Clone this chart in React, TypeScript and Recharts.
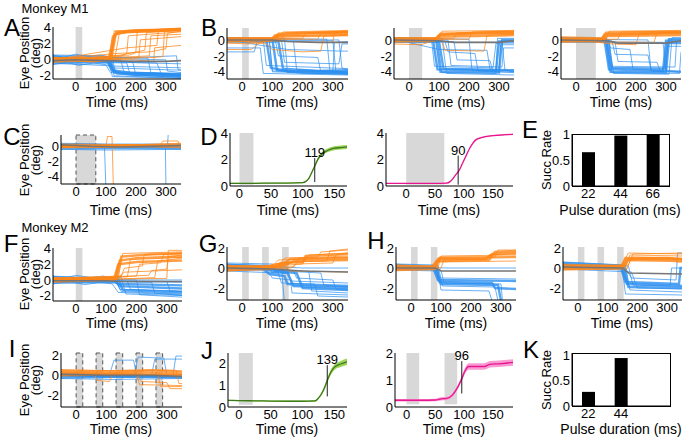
import React from "react";
import {
  LineChart,
  Line,
  XAxis,
  YAxis,
  ReferenceArea,
  ReferenceLine,
  ComposedChart,
  Area,
  BarChart,
  Bar,
} from "recharts";

const FONT = "'Liberation Sans', Arial, Helvetica, sans-serif";
const ORANGE = "#ff8616";
const BLUE = "#2b8ef0";
const MEAN = "#767676";
const PULSE = "#d8d8d8";

// eye traces are flat [t0, v0, t1, v1, ...] lists (ms, deg)

// ---- A (monkey M1, 22 ms pulse)
const aOrangeCore = [
  [-75, 0.1, 40, -0.1, 110, 0.0, 125, 2.8, 140, 3.4, 200, 3.6, 350, 3.8],
  [-75, -0.2, 50, 0.1, 115, 0.1, 130, 3.2, 160, 3.5, 260, 3.7, 350, 3.9],
  [-75, 0.2, 60, -0.2, 118, 0.1, 135, 3.5, 200, 3.7, 350, 3.8],
];
const aOrange = [
  [-75, 0.3, 120, 0.2, 128, 3.6, 350, 3.9],
  [-75, -0.3, 112, -0.1, 122, 3.0, 170, 3.4, 350, 3.6],
  [-75, 0.0, 130, 0.1, 145, 3.3, 350, 3.7],
  [-75, 0.1, 150, 0.4, 170, 0.8, 175, 3.0, 350, 3.5],
  [-75, 0.0, 180, 0.6, 200, 0.9, 205, 3.6, 350, 3.9],
  [-75, -0.1, 150, 0.6, 230, 1.2, 235, 3.4, 350, 3.7],
  [-75, 0.2, 200, 0.4, 245, 0.5, 250, 3.0, 350, 3.2],
  [-75, 0.0, 170, 1.5, 270, 1.8, 275, 3.7, 350, 3.9],
  [-75, -0.1, 260, 0.3, 290, 0.4, 295, 3.5, 350, 3.8],
  [-75, 0.1, 140, 0.8, 250, 1.0, 300, 1.4, 305, 3.3, 350, 3.6],
  [-75, 0.0, 160, 0.2, 210, 0.3, 215, 2.5, 350, 2.9],
  [-75, 0.2, 190, 0.0, 260, -0.2, 262, 1.5, 350, 1.8],
];
const aBlueCore = [
  [-75, 0.0, 110, -0.1, 125, -1.4, 160, -1.7, 350, -1.9],
  [-75, 0.3, 115, 0.0, 130, -1.6, 200, -1.9, 350, -2.0],
  [-75, -0.3, 105, -0.2, 120, -1.3, 180, -1.6, 350, -1.8],
];
const aBlue = [
  [-75, 0.5, 120, 0.4, 135, -1.8, 350, -2.2],
  [-75, -0.5, 118, -0.5, 128, -2.0, 350, -2.3],
  [-75, 0.6, 100, 0.5, 115, -1.0, 350, -1.3],
  [-75, 0.2, 150, 0.0, 160, -1.5, 350, -1.8],
  [-75, -0.2, 170, -0.4, 180, -1.7, 350, -2.1],
  [-75, 0.1, 190, -0.3, 200, -1.9, 350, -2.2],
  [-75, 0.4, 240, 0.2, 250, -1.6, 350, -2.0],
  [-75, -0.1, 270, -0.4, 285, -1.8, 350, -2.0],
  [-75, 0.3, 300, 0.0, 305, -1.4, 350, -1.6],
  [-75, 0.0, 130, -0.3, 350, -0.5],
  [-75, -0.4, 140, -0.8, 350, -1.0],
  [-75, 0.2, 200, 0.3, 335, 0.5, 340, -1.2, 350, -1.3],
  [-75, 0.6, -40, 0.3, 0, 0.7, 40, 0.4, 80, 0.6, 110, 0.3, 122, -2.1, 350, -2.3],
  [-75, -0.6, -30, -0.3, 10, -0.7, 60, -0.4, 100, -0.6, 116, -1.6, 350, -1.7],
];
const aMean = [-75, -0.1, 0, 0.0, 100, -0.1, 200, -0.2, 300, -0.2, 350, -0.1];

// ---- B (monkey M1, 22 / 44 / 66 ms pulses)
const b1OrangeCore = [
  [-50, 0.0, 100, 0.1, 110, 0.6, 200, 0.8, 350, 0.9],
  [-50, 0.2, 110, 0.2, 120, 0.8, 350, 1.0],
  [-50, -0.2, 95, 0.0, 105, 0.4, 350, 0.6],
];
const b1Orange = [
  [-50, 0.3, 120, 0.3, 135, 1.0, 350, 1.2],
  [-50, -0.4, 20, -0.5, 100, -0.1, 115, 0.5, 350, 0.7],
  [-50, -1.2, 30, -1.2, 60, -0.3, 130, 0.2, 140, 0.9, 350, 1.1],
  [-50, 0.1, 200, 0.2, 210, 0.9, 350, 1.1],
  [-50, 0.0, 250, 0.1, 260, 0.8, 350, 1.0],
  [-50, 0.1, 150, -0.2, 300, -0.3, 305, 0.9, 350, 1.0],
  [-50, 0.0, 80, -0.5, 100, -1.2, 200, -1.5, 260, -1.4, 270, 0.5, 350, 0.6],
];
const b1BlueCore = [
  [-50, 0.0, 80, 0.0, 95, -3.5, 150, -3.9, 350, -4.0],
  [-50, 0.2, 100, 0.1, 115, -3.8, 200, -4.1, 350, -4.2],
  [-50, -0.2, 120, -0.2, 135, -3.6, 250, -3.9, 350, -3.8],
];
const b1Blue = [
  [-50, 0.1, 70, 0.0, 80, -3.2, 350, -3.6],
  [-50, -1.5, 40, -1.5, 50, -0.2, 90, -0.1, 100, -4.0, 350, -4.3],
  [-50, 0.3, 140, 0.2, 150, -4.1, 350, -4.3],
  [-50, 0.0, 170, -0.2, 180, -3.7, 350, -4.0],
  [-50, 0.0, 110, -0.1, 120, -2.0, 250, -2.2, 260, -4.0, 350, -4.2],
  [-50, 0.1, 130, 0.0, 140, -2.8, 320, -3.0, 330, -0.5, 350, -0.5],
  [-50, 0.2, 280, 0.1, 290, -3.9, 350, -4.2],
  [-50, -0.1, 300, -0.1, 310, -4.0, 350, -4.1],
  [-50, 0.0, 320, 0.0, 330, -3.5, 350, -3.8],
  [-50, 0.1, 90, 0.0, 100, -3.9, 300, -4.0, 305, -0.3, 350, -0.2],
  [-50, 0.0, 150, -1.2, 330, -1.4, 350, -1.4],
  [-50, -1.0, 60, -1.0, 70, -4.2, 350, -4.4],
];
const b1Mean = [-50, 0.0, 100, 0.0, 150, -0.2, 250, -0.3, 350, -0.3];

const b2OrangeCore = [
  [-50, 0.0, 90, 0.0, 100, 0.6, 200, 0.8, 350, 0.9],
  [-50, 0.2, 95, 0.2, 105, 0.8, 350, 1.0],
  [-50, -0.2, 85, -0.1, 95, 0.4, 350, 0.6],
];
const b2Orange = [
  [-50, 0.3, 100, 0.3, 110, 1.1, 350, 1.2],
  [-50, -0.5, 40, -0.6, 90, 0.0, 100, 0.7, 350, 0.8],
  [-50, 0.1, 150, 0.2, 160, 0.9, 350, 1.1],
  [-50, -0.1, 110, 0.0, 120, -1.3, 250, -1.4, 260, 0.6, 350, 0.7],
  [-50, 0.0, 200, 0.1, 210, 1.0, 350, 1.1],
];
const b2BlueCore = [
  [-50, 0.0, 80, 0.0, 95, -3.7, 290, -3.9, 300, -0.2, 350, -0.2],
  [-50, 0.2, 90, 0.1, 105, -4.0, 300, -4.1, 310, 0.0, 350, 0.0],
  [-50, -0.2, 100, -0.2, 115, -3.6, 350, -3.8],
];
const b2Blue = [
  [-50, 0.1, 75, 0.0, 85, -3.3, 280, -3.5, 290, -0.4, 350, -0.4],
  [-50, 0.3, 110, 0.2, 125, -4.2, 350, -4.4],
  [-50, 0.0, 120, -0.2, 130, -1.5, 220, -1.7, 230, -3.9, 350, -4.0],
  [-50, -0.1, 150, -0.2, 160, -2.5, 270, -2.6, 280, -4.0, 350, -4.1],
  [-50, 0.2, 200, 0.1, 210, -3.8, 300, -3.9, 305, -0.6, 350, -0.6],
  [-50, 0.0, 95, 0.0, 110, -4.1, 290, -4.2, 295, 0.2, 350, 0.2],
  [-50, 0.1, 100, -1.2, 260, -1.3, 270, -3.7, 350, -3.9],
  [-50, -0.3, 310, -0.3, 320, -3.8, 350, -4.0],
  [-50, 0.0, 130, 0.0, 140, -3.2, 310, -3.4, 315, -1.0, 350, -1.0],
];
const b2Mean = [-50, 0.0, 100, -0.1, 150, -0.3, 300, -0.3, 350, -0.1];

const b3OrangeCore = [
  [-50, 0.1, 85, 0.1, 95, 0.7, 350, 0.9],
  [-50, -0.1, 90, 0.0, 100, 0.9, 350, 1.0],
  [-50, 0.3, 95, 0.2, 105, 0.5, 350, 0.6],
];
const b3Orange = [
  [-50, 0.0, 100, 0.1, 110, 1.1, 350, 1.2],
  [-50, -0.3, 80, -0.2, 92, 0.6, 350, 0.8],
  [-50, 0.2, 120, -0.5, 200, -0.6, 210, 0.8, 350, 0.9],
  [-50, 0.0, 140, 0.1, 150, 1.0, 350, 1.1],
  [-50, -0.2, 260, -0.3, 270, 0.9, 350, 1.0],
];
const b3BlueCore = [
  [-50, 0.0, 95, 0.0, 110, -3.7, 290, -3.9, 300, -0.1, 350, -0.1],
  [-50, 0.2, 100, 0.1, 115, -4.0, 300, -4.1, 310, 0.1, 350, 0.1],
  [-50, -0.2, 105, -0.2, 120, -3.5, 295, -3.6, 305, -0.4, 350, -0.4],
];
const b3Blue = [
  [-50, 0.1, 110, 0.0, 125, -4.2, 310, -4.3, 320, 0.3, 350, 0.3],
  [-50, 0.3, 100, 0.2, 115, -3.3, 330, -3.4, 335, -0.2, 350, -0.2],
  [-50, 0.0, 120, -0.1, 130, -1.8, 240, -1.9, 250, -3.8, 350, -4.0],
  [-50, -0.1, 130, -0.2, 140, -2.7, 270, -2.8, 280, -3.9, 350, -4.0],
  [-50, 0.2, 105, 0.1, 115, -1.0, 180, -1.2, 190, -3.7, 300, -3.8, 305, -0.8, 350, -0.8],
  [-50, 0.0, 110, 0.0, 120, -4.1, 345, -4.2, 350, -1.5],
  [-50, 0.1, 240, 0.0, 250, -3.9, 350, -4.1],
  [-50, -0.2, 290, -0.3, 300, -3.8, 350, -3.9],
];
const b3Mean = [-50, 0.0, 100, -0.1, 140, -0.4, 300, -0.4, 350, -0.1];

// ---- C (control, no saccade)
const cOrangeCore = [
  [-50, 0.1, 100, 0.0, 200, 0.1, 350, 0.05],
  [-50, -0.1, 150, 0.1, 350, 0.2],
];
const cOrange = [
  [-50, 0.2, 100, 0.1, 105, 1.3, 120, 1.3, 125, -6],
  [-50, 0.0, 280, 0.2, 290, 0.7, 340, 0.7, 345, 0.2, 350, 0.2],
  [-50, 0.3, 200, 0.2, 350, 0.4],
  [-50, -0.2, 250, -0.1, 350, -0.2],
];
const cBlueCore = [
  [-50, 0.0, 350, -0.1],
  [-50, -0.3, 200, -0.2, 350, -0.3],
  [-50, 0.2, 150, 0.1, 350, 0.1],
];
const cBlue = [
  [-50, 0.0, 95, -0.1, 100, -6],
  [-50, -0.1, 298, 0.0, 300, -6],
  [-50, 0.1, 305, 0.1, 308, 2],
  [-50, -0.4, 100, -0.5, 350, -0.4],
  [-50, 0.4, 120, 0.3, 350, 0.3],
];
const cMean = [-50, 0.2, 50, 0.0, 150, -0.1, 250, 0.0, 350, 0.1];

// ---- D (mean traces with latency)
const d1Time = [-15, 0, 25, 50, 75, 100, 105, 110, 115, 119, 125, 130, 140, 150, 160, 170];
const d1Mean = [0.2, 0.2, 0.2, 0.22, 0.22, 0.25, 0.35, 0.6, 1.1, 1.5, 2.1, 2.4, 2.7, 2.85, 2.9, 2.95];
const d1Spread = [0.04, 0.04, 0.04, 0.04, 0.04, 0.05, 0.05, 0.07, 0.09, 0.1, 0.12, 0.13, 0.14, 0.15, 0.15, 0.15];
const d2Time = [-35, 0, 25, 50, 70, 76, 80, 85, 92, 99, 105, 110, 115, 121, 130, 150, 170, 185];
const d2Mean = [0.2, 0.2, 0.2, 0.2, 0.22, 0.33, 0.5, 0.8, 1.2, 1.85, 2.4, 2.85, 3.2, 3.5, 3.65, 3.8, 3.87, 3.9];
const d2Spread = [0.03, 0.03, 0.03, 0.03, 0.03, 0.04, 0.05, 0.06, 0.07, 0.08, 0.08, 0.08, 0.07, 0.06, 0.05, 0.05, 0.05, 0.05];

// ---- E / K success rates
const pulseCats = ["22", "44", "66"];
const eRate = [0.65, 0.97, 1.0];
const kCats = ["22", "44", ""];
const kRate = [0.28, 0.95, null];

// ---- F (monkey M2, 22 ms pulse)
const fOrangeCore = [
  [-75, 0.0, 130, 0.1, 145, 2.5, 200, 2.8, 350, 3.0],
  [-75, 0.2, 135, 0.2, 150, 3.0, 250, 3.3, 350, 3.4],
  [-75, -0.2, 125, 0.0, 140, 2.0, 200, 2.3, 350, 2.5],
];
const fOrange = [
  [-75, 0.1, 140, 0.3, 155, 3.4, 350, 3.6],
  [-75, -0.1, 150, 0.5, 160, 1.5, 220, 1.8, 225, 3.2, 350, 3.4],
  [-75, 0.3, 170, 0.4, 180, 2.6, 350, 2.9],
  [-75, 0.0, 200, 0.5, 210, 2.0, 280, 2.2, 290, 3.3, 350, 3.5],
  [-75, 0.1, 240, 0.6, 250, 1.2, 300, 1.4, 305, 3.0, 350, 3.2],
  [-75, -0.2, 260, 0.3, 270, 2.4, 350, 2.8],
  [-75, 0.2, 145, 0.5, 160, 1.0, 350, 1.3],
  [-75, 0.0, 300, 0.2, 305, 3.8, 350, 3.8],
];
const fBlueCore = [
  [-75, 0.0, 130, -0.1, 145, -0.8, 350, -1.1],
  [-75, 0.3, 140, 0.1, 155, -1.3, 350, -1.6],
  [-75, -0.3, 125, -0.2, 140, -0.5, 350, -0.7],
];
const fBlue = [
  [-75, 0.4, 150, 0.3, 165, -1.8, 350, -2.0],
  [-75, -0.4, 135, -0.4, 150, -1.5, 350, -1.8],
  [-75, 0.1, 170, -0.2, 180, -1.2, 350, -1.5],
  [-75, 0.2, 200, 0.0, 210, -1.9, 350, -2.2],
  [-75, -0.1, 250, -0.3, 260, -1.7, 350, -2.0],
  [-75, 0.0, 140, -0.2, 350, -0.3],
  [-75, 0.0, 300, -0.2, 310, -1.4, 350, -1.5],
  [-75, 0.5, 150, 0.0, 350, 0.0],
  [-75, 0.5, -40, 0.2, 0, 0.6, 50, 0.3, 90, 0.5, 130, 0.2, 145, -1.2, 350, -1.4],
  [-75, -0.5, -20, -0.2, 30, -0.6, 80, -0.3, 120, -0.5, 140, -1.6, 350, -1.9],
];
const fMean = [-75, -0.1, 100, -0.1, 150, -0.2, 350, -0.2];

// ---- G (3 x 22 ms pulses)
const gOrangeCore = [
  [-50, 0.0, 80, 0.0, 100, 0.3, 140, 0.5, 160, 0.9, 350, 1.0],
  [-50, -0.2, 90, -0.1, 150, 0.4, 170, 0.7, 350, 0.8],
  [-50, 0.2, 100, 0.1, 130, 0.5, 200, 0.6, 210, 1.2, 350, 1.4],
];
const gOrange = [
  [-50, 0.1, 120, 0.2, 140, 1.0, 250, 1.1, 260, 1.6, 350, 1.8],
  [-50, -0.1, 150, 0.3, 200, 0.4, 220, 1.3, 350, 1.5],
  [-50, 0.0, 140, 0.1, 160, 0.6, 280, 0.7, 290, 1.7, 350, 1.9],
  [-50, 0.2, 100, 0.2, 120, 0.8, 350, 1.1],
  [-50, -0.3, 160, 0.0, 180, 0.4, 300, 0.5, 310, 1.3, 350, 1.5],
  [-50, 0.0, 170, 0.1, 190, 1.0, 350, 1.2],
  [-50, 0.1, 140, 0.3, 150, -0.3, 350, -0.4],
];
const gBlueCore = [
  [-50, 0.1, 80, 0.0, 100, -0.4, 150, -0.5, 170, -1.8, 350, -2.0],
  [-50, 0.3, 90, 0.2, 110, -0.3, 180, -0.5, 200, -2.0, 350, -2.2],
  [-50, -0.2, 70, -0.1, 90, -0.6, 140, -0.8, 150, -1.6, 350, -1.8],
];
const gBlue = [
  [-50, 0.5, 100, 0.4, 110, -0.2, 220, -0.3, 230, -2.3, 350, -2.5],
  [-50, 0.0, 80, -0.1, 100, -1.0, 160, -1.2, 165, -2.5, 350, -2.7],
  [-50, 0.2, 150, 0.0, 160, -1.3, 350, -1.5],
  [-50, -0.3, 120, -0.5, 130, -1.5, 240, -1.6, 250, -2.8, 350, -2.9],
  [-50, 0.4, 200, 0.0, 350, 0.0],
  [-50, 0.1, 170, -0.3, 180, -1.0, 300, -1.2, 310, -2.1, 350, -2.2],
  [-50, 0.0, 260, -0.5, 270, -1.7, 350, -1.9],
  [-50, 0.3, 130, 0.0, 140, -3.5],
];
const gMean = [-50, 0.0, 100, -0.1, 200, -0.3, 350, -0.4];

// ---- H (2 and 3 pulses)
const h1OrangeCore = [
  [-50, 0.0, 75, 0.0, 90, 0.9, 250, 0.9, 270, 1.4, 350, 1.5],
  [-50, -0.2, 80, -0.1, 95, 1.0, 350, 1.1],
  [-50, 0.2, 70, 0.1, 85, 0.7, 260, 0.8, 280, 1.6, 350, 1.7],
];
const h1Orange = [
  [-50, 0.1, 90, 0.0, 100, 1.2, 350, 1.3],
  [-50, -0.1, 100, 0.0, 110, 0.8, 250, 0.9, 260, 1.3, 350, 1.4],
  [-50, 0.0, 85, 0.2, 95, 1.1, 280, 1.1, 290, 1.8, 350, 1.8],
  [-50, 0.3, 80, 0.2, 90, 0.6, 350, 0.7],
];
const h1BlueCore = [
  [-50, 0.1, 80, 0.0, 95, -1.4, 270, -1.5, 280, -2.0, 350, -2.1],
  [-50, 0.3, 85, 0.1, 100, -1.6, 290, -1.7, 300, -3.3],
  [-50, -0.1, 75, -0.1, 90, -1.2, 350, -1.3],
];
const h1Blue = [
  [-50, 0.4, 90, 0.3, 105, -1.8, 280, -1.9, 290, -3.3],
  [-50, 0.0, 100, -0.2, 110, -1.5, 300, -1.6, 305, -3.3],
  [-50, 0.2, 80, 0.1, 95, -1.0, 350, -1.1],
  [-50, 0.1, 120, 0.0, 350, 0.0],
  [-50, -0.2, 90, -0.3, 100, -2.2, 260, -2.3, 270, -3.3],
];
const h1Mean = [-50, 0.0, 80, 0.0, 100, -0.3, 350, -0.3];

const h2OrangeCore = [
  [-50, 0.1, 150, 0.1, 165, 0.9, 350, 0.9],
  [-50, -0.1, 145, 0.0, 160, 1.0, 300, 1.0, 350, 0.9],
  [-50, 0.3, 155, 0.2, 170, 0.8, 350, 0.7],
];
const h2Orange = [
  [-50, 0.0, 160, 0.1, 175, 1.3, 350, 1.2],
  [-50, 0.2, 140, 0.2, 150, 0.5, 170, 1.5, 350, 1.4],
  [-50, -0.2, 165, -0.1, 180, 1.1, 320, 1.0, 330, 0.6, 350, 0.6],
  [-50, 0.1, 170, 0.3, 185, 1.4, 350, 1.5],
];
const h2BlueCore = [
  [-50, 0.3, 150, 0.1, 165, -1.6, 350, -1.8],
  [-50, 0.5, 155, 0.2, 170, -1.9, 350, -2.0],
  [-50, 0.1, 145, 0.0, 160, -1.4, 340, -1.6, 345, 0.0, 350, 0.0],
];
const h2Blue = [
  [-50, 0.6, 160, 0.3, 175, -2.2, 350, -2.4],
  [-50, 0.0, 150, -0.2, 160, -2.6, 350, -2.7],
  [-50, 0.4, 170, 0.2, 185, -1.7, 310, -1.8, 315, 0.0, 350, 0.0],
  [-50, 0.2, 160, 0.0, 180, -1.0, 330, -1.2, 335, 1.5, 350, 1.5],
  [-50, -0.1, 180, -0.4, 200, -2.0, 350, -2.1],
];
const h2Mean = [-50, 0.1, 150, 0.0, 170, -0.5, 350, -0.6];

// ---- I (pulse train, no saccade)
const iOrangeCore = [
  [-50, 0.3, 100, 0.2, 200, 0.3, 350, 0.2],
  [-50, 0.0, 150, 0.1, 350, 0.0],
  [-50, 0.5, 120, 0.4, 250, 0.5, 350, 0.4],
];
const iOrange = [
  [-50, 0.2, 60, 0.1, 70, -0.5, 110, -0.6, 120, 0.0, 350, 0.1],
  [-50, 0.1, 200, 0.0, 210, -0.9, 350, -1.0],
  [-50, 0.3, 200, 0.2, 215, -0.6, 300, -0.7, 310, -1.3, 350, -1.3],
  [-50, 0.0, 270, 0.0, 280, -1.1, 350, -1.1],
  [-50, 0.4, 150, 0.5, 330, 0.5, 340, -0.8, 350, -0.8],
];
const iBlueCore = [
  [-50, 0.0, 100, -0.1, 350, -0.1],
  [-50, -0.2, 200, -0.1, 350, -0.2],
  [-50, 0.1, 350, 0.0],
];
const iBlue = [
  [-50, 0.0, 110, 0.0, 125, 1.5, 190, 1.5, 200, 0.0, 350, 0.0],
  [-50, -0.1, 190, -0.1, 205, 1.8, 290, 1.7, 300, 0.0, 320, 0.0, 330, 1.9, 350, 1.9],
  [-50, 0.2, 250, 0.1, 260, 1.6, 350, 1.6],
  [-50, -0.3, 120, -0.4, 350, -0.3],
];
const iMean = [-50, 0.1, 100, 0.0, 250, 0.0, 350, -0.1];

// ---- J (mean traces, M2)
const j1Time = [-17, 0, 25, 50, 75, 100, 120, 125, 130, 135, 139, 145, 150, 160, 170];
const j1Mean = [0.3, 0.29, 0.28, 0.27, 0.26, 0.26, 0.28, 0.4, 0.6, 0.9, 1.2, 1.6, 1.8, 1.95, 2.05];
const j1Spread = [0.03, 0.03, 0.03, 0.03, 0.03, 0.03, 0.04, 0.05, 0.07, 0.09, 0.1, 0.12, 0.13, 0.14, 0.15];
const j2Time = [-20, 0, 25, 50, 60, 70, 80, 88, 96, 102, 108, 120, 135, 145, 160, 185];
const j2Mean = [0.25, 0.25, 0.25, 0.26, 0.3, 0.32, 0.45, 0.7, 1.05, 1.35, 1.5, 1.5, 1.5, 1.58, 1.6, 1.65];
const j2Spread = [0.05, 0.05, 0.05, 0.05, 0.06, 0.06, 0.07, 0.08, 0.1, 0.11, 0.12, 0.12, 0.12, 0.12, 0.12, 0.12];

type Box = { x: number; y: number; w: number; h: number };

const YW = 40;
const XH = 30;
const TOPM = 16;
const PAD = 4;
const tickStyle = { fill: "#000", fontSize: 13, fontFamily: FONT };

function toPoints(flat: number[]) {
  const pts: { t: number; v: number }[] = [];
  for (let i = 0; i < flat.length; i += 2) pts.push({ t: flat[i], v: flat[i + 1] });
  return pts;
}

function Txt({ x, y, size = 14, rotate = false, children }: any) {
  return (
    <div
      style={{
        position: "absolute",
        left: x,
        top: y,
        transform: `translate(-50%, -50%)${rotate ? " rotate(-90deg)" : ""}`,
        fontFamily: FONT,
        fontSize: size,
        lineHeight: rotate ? "10.5px" : 1,
        whiteSpace: "nowrap",
        textAlign: "center",
        color: "#000",
      }}
    >
      {children}
    </div>
  );
}

function traceLines(list: number[][], color: string, width: number, opacity: number, tag: string) {
  return list.map((tr, i) => (
    <Line
      key={tag + i}
      data={toPoints(tr)}
      dataKey="v"
      type="linear"
      dot={false}
      activeDot={false}
      stroke={color}
      strokeWidth={width}
      strokeOpacity={opacity}
      isAnimationActive={false}
    />
  ));
}

function xAxis(ticks: number[], domain: [number, number]) {
  return (
    <XAxis
      type="number"
      dataKey="t"
      domain={domain}
      ticks={ticks}
      interval={0}
      allowDataOverflow
      tickLine={false}
      tickSize={0}
      tickMargin={3}
      height={XH}
      stroke="#000"
      tick={tickStyle}
    />
  );
}

function yAxis(ticks: number[], domain: [number, number]) {
  return (
    <YAxis
      type="number"
      domain={domain}
      ticks={ticks}
      interval={0}
      allowDataOverflow
      tickLine={false}
      tickSize={0}
      tickMargin={2}
      width={YW}
      stroke="#000"
      tick={tickStyle}
    />
  );
}

function TracePanel(p: {
  box: Box;
  xDomain: [number, number];
  yDomain: [number, number];
  yTicks: number[];
  pulses: number[][];
  dashed?: boolean;
  blueCore: number[][];
  blue: number[][];
  orangeCore: number[][];
  orange: number[][];
  mean: number[];
}) {
  const { box } = p;
  return (
    <div style={{ position: "absolute", left: box.x - YW, top: box.y - TOPM }}>
      <LineChart
        width={YW + box.w + PAD}
        height={TOPM + box.h + XH}
        margin={{ top: TOPM, right: PAD, bottom: 0, left: 0 }}
      >
        {xAxis([0, 100, 200, 300], p.xDomain)}
        {yAxis(p.yTicks, p.yDomain)}
        {p.pulses.map(([a, b], i) => (
          <ReferenceArea
            key={"p" + i}
            x1={a}
            x2={b}
            fill={PULSE}
            fillOpacity={1}
            stroke={p.dashed ? "#555" : "none"}
            strokeDasharray="4 3"
          />
        ))}
        {traceLines(p.blue, BLUE, 1, 0.7, "b")}
        {traceLines(p.blueCore, BLUE, 2.4, 0.8, "bc")}
        {traceLines(p.orange, ORANGE, 1, 0.75, "o")}
        {traceLines(p.orangeCore, ORANGE, 2.4, 0.8, "oc")}
        {traceLines([p.mean], MEAN, 1.6, 1, "m")}
      </LineChart>
    </div>
  );
}

function CurvePanel(p: {
  box: Box;
  xDomain: [number, number];
  yDomain: [number, number];
  yTicks: number[];
  pulses: number[][];
  pulseTop: number;
  time: number[];
  mean: number[];
  spread: number[];
  latency: number;
  markLow: number;
  markHigh: number;
  color: string;
  band: string;
}) {
  const { box } = p;
  const rows = p.time.map((t, i) => ({
    t,
    m: p.mean[i],
    range: [p.mean[i] - p.spread[i], p.mean[i] + p.spread[i]],
  }));
  return (
    <div style={{ position: "absolute", left: box.x - YW, top: box.y - TOPM }}>
      <ComposedChart
        data={rows}
        width={YW + box.w + PAD}
        height={TOPM + box.h + XH}
        margin={{ top: TOPM, right: PAD, bottom: 0, left: 0 }}
      >
        {xAxis([0, 50, 100, 150], p.xDomain)}
        {yAxis(p.yTicks, p.yDomain)}
        {p.pulses.map(([a, b], i) => (
          <ReferenceArea key={i} x1={a} x2={b} y1={0.1} y2={p.pulseTop} fill={PULSE} fillOpacity={1} stroke="none" />
        ))}
        <Area dataKey="range" type="monotone" stroke="none" fill={p.band} fillOpacity={1} isAnimationActive={false} />
        <Line dataKey="m" type="monotone" dot={false} activeDot={false} stroke={p.color} strokeWidth={1.3} isAnimationActive={false} />
        <ReferenceLine
          segment={[
            { x: p.latency, y: p.markLow },
            { x: p.latency, y: p.markHigh },
          ]}
          stroke="#222"
          strokeWidth={1}
          label={{ value: String(p.latency), position: "top", fill: "#000", fontSize: 13, fontFamily: FONT, offset: 1 }}
        />
      </ComposedChart>
    </div>
  );
}

function BarPanel(p: { box: Box; cats: string[]; rate: (number | null)[]; yDomain: [number, number] }) {
  const { box } = p;
  const rows = p.cats.map((c, i) => ({ c, v: p.rate[i] }));
  return (
    <>
      <div style={{ position: "absolute", left: box.x - YW, top: box.y - TOPM }}>
        <BarChart
          data={rows}
          width={YW + box.w + PAD}
          height={TOPM + box.h + XH}
          margin={{ top: TOPM, right: PAD, bottom: 0, left: 0 }}
          barCategoryGap={0}
        >
          <XAxis dataKey="c" interval={0} tickLine={false} tickSize={0} tickMargin={3} height={XH} stroke="#000" tick={tickStyle} />
          {yAxis([0, 0.5, 1], p.yDomain)}
          <Bar dataKey="v" fill="#000" barSize={13} isAnimationActive={false} />
        </BarChart>
      </div>
      {/* axes box */}
      <div
        style={{
          position: "absolute",
          left: box.x,
          top: box.y,
          width: box.w + 1,
          height: box.h + 1,
          border: "1px solid #000",
          boxSizing: "border-box",
          pointerEvents: "none",
        }}
      />
    </>
  );
}

const eyeLabel = (
  <>
    Eye Position
    <br />
    (deg)
  </>
);

export default function App() {
  const letters: [string, number, number][] = [
    ["A", 12, 28],
    ["B", 209, 28],
    ["C", 12, 137],
    ["D", 209, 137],
    ["E", 530, 130],
    ["F", 11, 244],
    ["G", 208, 244],
    ["H", 376, 241],
    ["I", 12, 349],
    ["J", 207, 351],
    ["K", 531, 350],
  ];
  return (
    <div style={{ position: "absolute", left: 0, top: 0, width: 687, height: 438, background: "#fff", overflow: "hidden" }}>
      <TracePanel box={{ x: 53, y: 27, w: 128, h: 52 }} xDomain={[-75, 350]} yDomain={[-2.4, 4.1]} yTicks={[-2, 0, 2, 4]}
        pulses={[[0, 22]]} blueCore={aBlueCore} blue={aBlue} orangeCore={aOrangeCore} orange={aOrange} mean={aMean} />
      <TracePanel box={{ x: 227, y: 28, w: 121, h: 51 }} xDomain={[-50, 350]} yDomain={[-4.9, 1.5]} yTicks={[-4, -2, 0]}
        pulses={[[0, 22]]} blueCore={b1BlueCore} blue={b1Blue} orangeCore={b1OrangeCore} orange={b1Orange} mean={b1Mean} />
      <TracePanel box={{ x: 394, y: 28, w: 120, h: 51 }} xDomain={[-50, 350]} yDomain={[-4.9, 1.5]} yTicks={[-4, -2, 0]}
        pulses={[[0, 44]]} blueCore={b2BlueCore} blue={b2Blue} orangeCore={b2OrangeCore} orange={b2Orange} mean={b2Mean} />
      <TracePanel box={{ x: 561, y: 28, w: 120, h: 51 }} xDomain={[-50, 350]} yDomain={[-4.9, 1.5]} yTicks={[-4, -2, 0]}
        pulses={[[0, 66]]} blueCore={b3BlueCore} blue={b3Blue} orangeCore={b3OrangeCore} orange={b3Orange} mean={b3Mean} />

      <TracePanel box={{ x: 61, y: 135, w: 120, h: 49 }} xDomain={[-50, 350]} yDomain={[-5, 1.5]} yTicks={[-4, -2, 0]}
        pulses={[[0, 66]]} dashed blueCore={cBlueCore} blue={cBlue} orangeCore={cOrangeCore} orange={cOrange} mean={cMean} />
      <CurvePanel box={{ x: 230, y: 133, w: 117, h: 53 }} xDomain={[-15, 170]} yDomain={[0, 4]} yTicks={[0, 2, 4]}
        pulses={[[0, 22]]} pulseTop={4} time={d1Time} mean={d1Mean} spread={d1Spread} latency={119} markLow={0.3} markHigh={2.1}
        color="#3d7a1c" band="#9fd45a" />
      <CurvePanel box={{ x: 386, y: 133, w: 127, h: 53 }} xDomain={[-35, 185]} yDomain={[0, 4]} yTicks={[0, 2, 4]}
        pulses={[[0, 66]]} pulseTop={4} time={d2Time} mean={d2Mean} spread={d2Spread} latency={90} markLow={0.1} markHigh={2.3}
        color="#e8178f" band="#f79ad2" />
      <BarPanel box={{ x: 572, y: 134, w: 97, h: 52 }} cats={pulseCats} rate={eRate} yDomain={[0, 1]} />

      <TracePanel box={{ x: 53, y: 248, w: 129, h: 53 }} xDomain={[-75, 350]} yDomain={[-2.7, 4.1]} yTicks={[-2, 0, 2, 4]}
        pulses={[[0, 22]]} blueCore={fBlueCore} blue={fBlue} orangeCore={fOrangeCore} orange={fOrange} mean={fMean} />
      <TracePanel box={{ x: 227, y: 247, w: 121, h: 53 }} xDomain={[-50, 350]} yDomain={[-3.2, 2.1]} yTicks={[-2, 0, 2]}
        pulses={[[0, 22], [66, 88], [132, 154]]} blueCore={gBlueCore} blue={gBlue} orangeCore={gOrangeCore} orange={gOrange} mean={gMean} />
      <TracePanel box={{ x: 396, y: 247, w: 120, h: 53 }} xDomain={[-50, 350]} yDomain={[-3.2, 2.1]} yTicks={[-2, 0, 2]}
        pulses={[[0, 22], [66, 88]]} blueCore={h1BlueCore} blue={h1Blue} orangeCore={h1OrangeCore} orange={h1Orange} mean={h1Mean} />
      <TracePanel box={{ x: 563, y: 247, w: 119, h: 53 }} xDomain={[-50, 350]} yDomain={[-3.2, 2.1]} yTicks={[-2, 0, 2]}
        pulses={[[0, 22], [66, 88], [132, 154]]} blueCore={h2BlueCore} blue={h2Blue} orangeCore={h2OrangeCore} orange={h2Orange} mean={h2Mean} />

      <TracePanel box={{ x: 61, y: 353, w: 121, h: 54 }} xDomain={[-50, 350]} yDomain={[-3.1, 2.2]} yTicks={[-2, 0, 2]}
        pulses={[[0, 22], [66, 88], [132, 154], [198, 220], [264, 286], [330, 352]]} dashed
        blueCore={iBlueCore} blue={iBlue} orangeCore={iOrangeCore} orange={iOrange} mean={iMean} />
      <CurvePanel box={{ x: 228, y: 353, w: 119, h: 54 }} xDomain={[-17, 170]} yDomain={[0, 2.45]} yTicks={[0, 1, 2]}
        pulses={[[0, 22]]} pulseTop={2.45} time={j1Time} mean={j1Mean} spread={j1Spread} latency={139} markLow={0.48} markHigh={1.9}
        color="#3d7a1c" band="#9fd45a" />
      <CurvePanel box={{ x: 395, y: 353, w: 118, h: 54 }} xDomain={[-20, 185]} yDomain={[0, 2]} yTicks={[0, 1, 2]}
        pulses={[[0, 22], [66, 88]]} pulseTop={2} time={j2Time} mean={j2Mean} spread={j2Spread} latency={96} markLow={0.5} markHigh={1.7}
        color="#e8178f" band="#f79ad2" />
      <BarPanel box={{ x: 572, y: 353, w: 98, h: 53 }} cats={kCats} rate={kRate} yDomain={[0, 1.05]} />

      {letters.map(([l, x, y]) => (
        <Txt key={l} x={x} y={y} size={24}>
          {l}
        </Txt>
      ))}
      <Txt x={55} y={8} size={13}>Monkey M1</Txt>
      <Txt x={55} y={227} size={13}>Monkey M2</Txt>

      <Txt x={30} y={53} size={13} rotate>{eyeLabel}</Txt>
      <Txt x={30} y={160} size={13} rotate>{eyeLabel}</Txt>
      <Txt x={30} y={274} size={13} rotate>{eyeLabel}</Txt>
      <Txt x={30} y={380} size={13} rotate>{eyeLabel}</Txt>
      <Txt x={547} y={160} size={13} rotate>Succ Rate</Txt>
      <Txt x={547} y={380} size={13} rotate>Succ Rate</Txt>

      <Txt x={117} y={102}>Time (ms)</Txt>
      <Txt x={287} y={102}>Time (ms)</Txt>
      <Txt x={454} y={102}>Time (ms)</Txt>
      <Txt x={621} y={102}>Time (ms)</Txt>
      <Txt x={121} y={210}>Time (ms)</Txt>
      <Txt x={288} y={210}>Time (ms)</Txt>
      <Txt x={449} y={210}>Time (ms)</Txt>
      <Txt x={620} y={210}>Pulse duration (ms)</Txt>
      <Txt x={117} y={323}>Time (ms)</Txt>
      <Txt x={287} y={323}>Time (ms)</Txt>
      <Txt x={456} y={323}>Time (ms)</Txt>
      <Txt x={622} y={323}>Time (ms)</Txt>
      <Txt x={121} y={429}>Time (ms)</Txt>
      <Txt x={287} y={429}>Time (ms)</Txt>
      <Txt x={454} y={429}>Time (ms)</Txt>
      <Txt x={621} y={429}>Pulse duration (ms)</Txt>
    </div>
  );
}
